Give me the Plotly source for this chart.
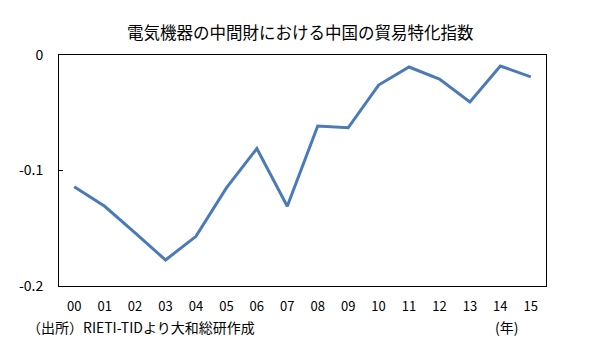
import plotly.graph_objects as go

# Trade specialization index of China's electrical-machinery intermediate goods
years = ["00", "01", "02", "03", "04", "05", "06", "07",
         "08", "09", "10", "11", "12", "13", "14", "15"]
index_values = [-0.114, -0.131, -0.154, -0.1775, -0.157, -0.115, -0.081, -0.131,
                -0.0615, -0.063, -0.026, -0.0104, -0.0208, -0.0407, -0.0095, -0.019]
y_ticks = [0, -0.1, -0.2]
y_tick_labels = ["0", "-0.1", "-0.2"]

font_family = "Noto Sans CJK JP, sans-serif"

W, H = 598, 346
L, R, T, B = 59, 52, 55, 60
plot_w = W - L - R
plot_h = H - T - B


def px_x(x):
    return (x - L) / plot_w


def px_y(y):
    return (H - B - y) / plot_h


fig = go.Figure()
fig.add_trace(go.Scatter(
    x=years, y=index_values, mode="lines",
    line=dict(color="#4a7ab8", width=3),
    hoverinfo="skip",
))

fig.update_layout(
    width=W, height=H,
    margin=dict(l=L, r=R, t=T, b=B),
    paper_bgcolor="white", plot_bgcolor="white",
    showlegend=False,
    font=dict(family=font_family, size=13, color="#000000"),
)

fig.add_annotation(text="電気機器の中間財における中国の貿易特化指数",
                   xref="paper", yref="paper", x=px_x(300), y=px_y(32),
                   xanchor="center", yanchor="middle", showarrow=False,
                   font=dict(size=16.5, family=font_family))

fig.update_xaxes(
    type="category", range=[-0.5, len(years) - 0.5],
    showgrid=False, zeroline=False,
    showline=True, linecolor="black", linewidth=1, mirror=True,
    ticks="", tickfont=dict(size=13), ticklabelstandoff=8,
)
fig.update_yaxes(
    range=[-0.2, 0], tickvals=y_ticks, ticktext=y_tick_labels,
    showgrid=False, zeroline=False,
    showline=True, linecolor="black", linewidth=1, mirror=True,
    ticks="inside", ticklen=4, tickcolor="black",
    tickfont=dict(size=14), ticklabelstandoff=12,
)

fig.add_annotation(text="（出所）RIETI-TIDより大和総研作成",
                   xref="paper", yref="paper", x=px_x(25), y=px_y(327),
                   xanchor="left", yanchor="middle", showarrow=False,
                   font=dict(size=14, family=font_family))
fig.add_annotation(text="(年)",
                   xref="paper", yref="paper", x=px_x(506), y=px_y(327),
                   xanchor="center", yanchor="middle", showarrow=False,
                   font=dict(size=14, family=font_family))

fig.write_html("out.html")
